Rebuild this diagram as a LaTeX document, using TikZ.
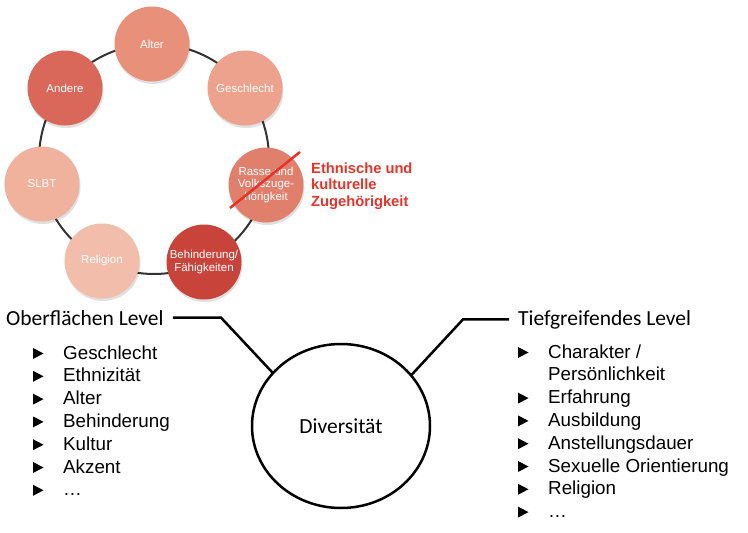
\documentclass[tikz,border=0pt]{standalone}
\usepackage{fontspec}
\setmainfont{Liberation Sans}
\newfontfamily\calibri{Carlito}
\usetikzlibrary{shapes.geometric}
\definecolor{cAlter}{HTML}{E8907A}
\definecolor{cGesch}{HTML}{EDA28D}
\definecolor{cRasse}{HTML}{E07F6C}
\definecolor{cBeh}{HTML}{C8443A}
\definecolor{cRel}{HTML}{F2BDAB}
\definecolor{cSLBT}{HTML}{F0B19D}
\definecolor{cAnd}{HTML}{D9685A}
\definecolor{redtxt}{HTML}{E8332A}
\definecolor{ringgray}{HTML}{333333}
\tikzset{
  bub/.style={circle, minimum size=75pt, inner sep=0pt, text=white, align=center,
    font=\fontsize{11.5}{12.5}\selectfont,
    preaction={fill=black, opacity=0.12, transform canvas={shift={(1pt,-2.5pt)}}}},
  ringline/.style={draw=ringgray, line width=2pt},
  strikeline/.style={draw=redtxt, line width=2.5pt},
  redlabel/.style={text=redtxt, align=left, inner sep=0pt,
    font=\bfseries\fontsize{14.7}{16.5}\selectfont},
  header/.style={font=\calibri\fontsize{21.5}{25}\selectfont, inner ysep=5pt, inner xsep=9pt},
  item/.style={font=\fontsize{18.8}{22}\selectfont, inner sep=0pt, anchor=base west},
  bullet/.style={fill=black},
  conn/.style={draw=black, line width=2.5pt},
  divnode/.style={ellipse, draw=black, line width=2.5pt, minimum width=178pt,
    minimum height=164pt, inner sep=0pt, font=\calibri\fontsize{21.5}{25}\selectfont}
}
\begin{document}
\begin{tikzpicture}[x=1pt,y=-1pt]
\useasboundingbox[fill=white] (0,0) rectangle (748,533);
% ring
\draw[ringline] (154,159) circle[radius=115];
% bubbles
\node[bub, fill=cAlter] (alter) at (152,44) {Alter};
\node[bub, fill=cGesch] (gesch) at (245,88) {Geschlecht};
\node[bub, fill=cRasse] (rasse) at (266,185) {Rasse und\\Volkszuge-\\hörigkeit};
\node[bub, fill=cBeh] (beh) at (204,262) {Behinderung/\\Fähigkeiten};
\node[bub, fill=cRel] (rel) at (102,261) {Religion};
\node[bub, fill=cSLBT] (slbt) at (42,184) {SLBT};
\node[bub, fill=cAnd] (andere) at (65,88) {Andere};
% strike-through
\draw[strikeline] (230,208) -- (300,152);
\node[redlabel, anchor=north west] (ethn) at (311,162.5) {Ethnische und\\kulturelle\\Zugehörigkeit};
% Diversity
\node[divnode] (div) at (341,426) {Diversität};
\node[header, anchor=base west] (oh) at (-3,325) {Oberflächen Level};
\node[header, anchor=base west] (th) at (509,325) {Tiefgreifendes Level};
\coordinate (lb) at (221,0);
\coordinate (rb) at (463,0);
\draw[conn] (oh.east) -- (oh.east -| lb) -- (div.142);
\draw[conn] (th.west) -- (th.west -| rb) -- (div.36);
% left list
\foreach \t [count=\i from 0] in {Geschlecht, Ethnizität, Alter, Behinderung, Kultur, Akzent, …}{
  \pgfmathsetmacro{\b}{359+22.8*\i}
  \node[item] (l\i) at (63,\b) {\t};
  \fill[bullet] (33,\b-11) -- (43.5,\b-5.5) -- (33,\b) -- cycle;
}
% right list
\foreach \t [count=\i from 0] in {Charakter /, Persönlichkeit, Erfahrung, Ausbildung, Anstellungsdauer, Sexuelle Orientierung, Religion, …}{
  \pgfmathsetmacro{\b}{358+22.8*\i}
  \node[item] (r\i) at (548,\b) {\t};
  \ifnum\i=1\else
  \fill[bullet] (518,\b-11) -- (528.5,\b-5.5) -- (518,\b) -- cycle;
  \fi
}
\end{tikzpicture}
\end{document}
